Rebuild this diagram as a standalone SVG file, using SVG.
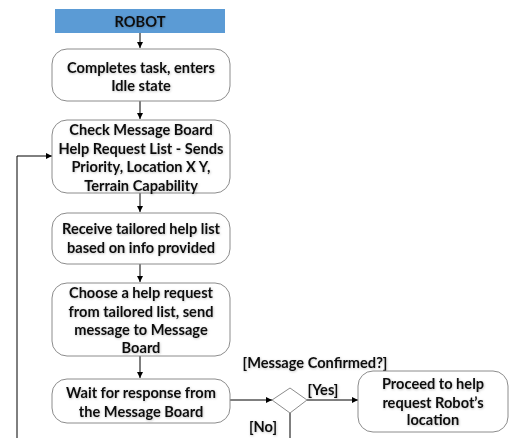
<svg xmlns="http://www.w3.org/2000/svg" width="510" height="438" viewBox="0 0 510 438">
  <defs>
    <filter id="glow" x="-10%" y="-30%" width="120%" height="160%">
      <feDropShadow dx="0.6" dy="0.8" stdDeviation="0.8" flood-color="#000" flood-opacity="0.25"/>
    </filter>
    <marker id="arr" viewBox="0 0 8 8" refX="8" refY="4" markerWidth="6" markerHeight="6" markerUnits="userSpaceOnUse" orient="auto">
      <path d="M0,0 L8,4 L0,8 z" fill="#000"/>
    </marker>
  </defs>
  <style>
    .box { fill: #fff; stroke: #8c8c8c; stroke-width: 1; }
    .lbl { font-family: Lato, "Liberation Sans", sans-serif; font-weight: bold; font-size: 14.6px; fill: #111; text-anchor: middle; dominant-baseline: central; filter: url(#glow); }
    .edge { fill: none; stroke: #000; stroke-width: 1; marker-end: url(#arr); }
    .line { fill: none; stroke: #000; stroke-width: 1; }
    .guard { font-family: Lato, "Liberation Sans", sans-serif; font-weight: bold; font-size: 14.6px; fill: #111; text-anchor: middle; dominant-baseline: central; filter: url(#glow); }
  </style>
  <rect width="510" height="438" fill="#fff"/>

  <g id="connectors">
    <path class="edge" d="M140,33 V48"/>
    <path class="edge" d="M140,101 V119"/>
    <path class="edge" d="M140,193 V212"/>
    <path class="edge" d="M140,264 V282"/>
    <path class="edge" d="M140,356 V378"/>
    <path class="edge" d="M230,400 H272"/>
    <path class="edge" d="M307,400 H358"/>
    <path class="line" d="M290,413 V438"/>
    <path class="edge" d="M17,438 V156 H52"/>
  </g>

  <g id="robot">
    <rect x="55" y="9" width="170" height="24" fill="#5b9bd5"/>
    <text class="lbl" x="140" y="21">ROBOT</text>
  </g>

  <g id="idle">
    <rect class="box" x="52" y="49" width="178" height="52" rx="15"/>
    <text class="lbl" x="141" y="67">Completes task, enters</text>
    <text class="lbl" x="141" y="85">Idle state</text>
  </g>

  <g id="check-board">
    <rect class="box" x="52" y="120" width="178" height="73" rx="15"/>
    <text class="lbl" x="141" y="129">Check Message Board</text>
    <text class="lbl" x="141" y="148">Help Request List - Sends</text>
    <text class="lbl" x="141" y="166">Priority, Location X Y,</text>
    <text class="lbl" x="141" y="185">Terrain Capability</text>
  </g>

  <g id="receive-list">
    <rect class="box" x="52" y="213" width="178" height="51" rx="15"/>
    <text class="lbl" x="141" y="228">Receive tailored help list</text>
    <text class="lbl" x="141" y="247">based on info provided</text>
  </g>

  <g id="choose-request">
    <rect class="box" x="52" y="283" width="178" height="73" rx="15"/>
    <text class="lbl" x="141" y="292">Choose a help request</text>
    <text class="lbl" x="141" y="311">from tailored list, send</text>
    <text class="lbl" x="141" y="329">message to Message</text>
    <text class="lbl" x="141" y="347">Board</text>
  </g>

  <g id="wait-response">
    <rect class="box" x="52" y="379" width="178" height="44" rx="15"/>
    <text class="lbl" x="141" y="392">Wait for response from</text>
    <text class="lbl" x="141" y="411">the Message Board</text>
  </g>

  <g id="decision">
    <polygon points="272,400 290,388 307,400 290,413" fill="#fff" stroke="#8c8c8c" stroke-width="1"/>
    <text class="guard" x="315" y="362">[Message Confirmed?]</text>
    <text class="guard" x="323" y="389">[Yes]</text>
    <text class="guard" x="263" y="426">[No]</text>
  </g>

  <g id="proceed">
    <rect class="box" x="358" y="371" width="150" height="61" rx="15"/>
    <text class="lbl" x="433" y="383">Proceed to help</text>
    <text class="lbl" x="433" y="402">request Robot’s</text>
    <text class="lbl" x="433" y="419">location</text>
  </g>
</svg>
